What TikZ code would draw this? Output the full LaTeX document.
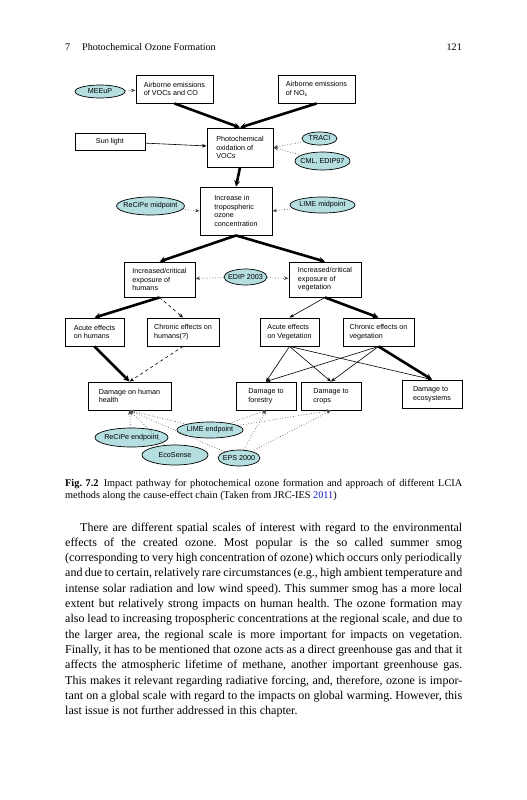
\documentclass[tikz,border=0pt]{standalone}
\usepackage{fontspec}
\setmainfont{Liberation Serif}
\setsansfont{Liberation Sans}
\usepackage{xcolor}
\usetikzlibrary{arrows.meta, shapes.geometric, calc}
\definecolor{methodcyan}{RGB}{180, 222, 224}
\definecolor{reflink}{RGB}{20, 20, 210}
\frenchspacing

\begin{document}
\begin{tikzpicture}[
  x=1pt, y=-1pt,
  every node/.style={font=\sffamily\fontsize{7.2}{8.6}\selectfont},
  stage/.style={draw=black, line width=0.9pt, fill=white, inner xsep=2pt, inner ysep=2pt, align=left},
  method/.style={ellipse, draw=black, line width=0.7pt, fill=methodcyan, inner xsep=-3pt, inner ysep=0pt, align=center},
  flow/.style={-{Stealth[length=4.5pt, width=3.5pt]}, line width=0.6pt},
  mainflow/.style={-{Stealth[length=6pt, width=6pt]}, line width=2.6pt},
  maybe/.style={flow, dashed},
  approach/.style={-{Stealth[length=4.5pt, width=3.5pt]}, line width=0.65pt, dotted, draw=black!70},
  pagetext/.style={font=\rmfamily\fontsize{10.1}{12}\selectfont, inner sep=0pt},
  body/.style={font=\rmfamily\fontsize{12}{15.3}\selectfont, anchor=base west, inner sep=0pt, text width=397pt, align=justify}
]
  \useasboundingbox (0,0) rectangle (527,800);

  % Kopfzeile
  \node[pagetext, anchor=base west] (chapno) at (65, 50.5) {7};
  \node[pagetext, anchor=base west] (chaptitle) at (82, 50.5) {Photochemical Ozone Formation};
  \node[pagetext, anchor=base east] (pageno) at (462, 50.5) {121};

  % Emissionen und Bildung
  \node[method, minimum width=50pt, minimum height=13pt] (meeup) at (100, 91.5) {MEEuP};
  \node[stage, minimum width=77pt, minimum height=28pt] (voc) at (174.5, 89) {Airborne emissions\\of VOCs and CO};
  \node[stage, minimum width=77pt, minimum height=28pt] (nox) at (316.5, 89) {Airborne emissions\\of NO\textsubscript{x}};
  \node[stage, align=center, minimum width=70pt, minimum height=17pt] (sun) at (110, 141.5) {Sun light};
  \node[stage, minimum width=66pt, minimum height=39pt] (photo) at (240, 147.5) {Photochemical\\oxidation of\\VOCs};
  \node[method, minimum width=35pt, minimum height=13pt] (traci) at (319.5, 138.5) {TRACI};
  \node[method, minimum width=55pt, minimum height=18pt] (cml) at (322.5, 161) {CML, EDIP97};

  % Ozonkonzentration
  \node[stage, minimum width=72pt, minimum height=48pt] (incr) at (236, 211) {Increase in\\tropospheric\\ozone\\concentration};
  \node[method, minimum width=65pt, minimum height=18pt] (recmid) at (150.5, 206) {ReCiPe midpoint};
  \node[method, minimum width=65pt, minimum height=16pt] (limemid) at (322.5, 205) {LIME midpoint};

  % Exposition
  \node[stage, minimum width=71pt, minimum height=35pt] (exph) at (159.5, 279.5) {Increased/critical\\exposure of\\humans};
  \node[stage, minimum width=72pt, minimum height=35pt] (expv) at (325, 279.5) {Increased/critical\\exposure of\\vegetation};
  \node[method, minimum width=43pt, minimum height=16pt] (edip) at (245.5, 277) {EDIP 2003};

  % Wirkungen
  \node[stage, minimum width=59pt, minimum height=28pt] (acuh) at (94.5, 332) {Acute effects\\on humans};
  \node[stage, minimum width=72pt, minimum height=28pt] (chrh) at (183, 332) {Chronic effects on\\humans(?)};
  \node[stage, minimum width=59pt, minimum height=28pt] (acuv) at (289.5, 332) {Acute effects\\on Vegetation};
  \node[stage, minimum width=71pt, minimum height=28pt] (chrv) at (378.5, 332) {Chronic effects on\\vegetation};

  % Schaeden
  \node[stage, minimum width=83pt, minimum height=28pt] (dhh) at (129.5, 396) {Damage on human\\health};
  \node[stage, minimum width=60pt, minimum height=28pt] (dfor) at (266, 396) {Damage to\\forestry};
  \node[stage, minimum width=60pt, minimum height=28pt] (dcrop) at (331, 396) {Damage to\\crops};
  \node[stage, minimum width=60pt, minimum height=28pt] (deco) at (432, 394) {Damage to\\ecosystems};

  % Endpunktmethoden
  \node[method, minimum width=73pt, minimum height=19pt] (recend) at (131.5, 437.5) {ReCiPe endpoint};
  \node[method, minimum width=66pt, minimum height=16pt] (limeend) at (210, 430) {LIME endpoint};
  \node[method, minimum width=66pt, minimum height=20pt] (ecos) at (175, 455) {EcoSense};
  \node[method, minimum width=42pt, minimum height=16pt] (eps) at (239, 458) {EPS 2000};

  % Pfeile der Wirkungskette
  \draw[approach] (meeup) -- (voc);
  \draw[mainflow] (voc.south) -- (photo.north);
  \draw[mainflow] (nox.south) -- (photo.north);
  \draw[flow] (sun) -- (photo);
  \draw[approach] (traci) -- (photo.east);
  \draw[approach] (cml) -- (photo.east);
  \draw[mainflow] (photo.south) -- (incr.north);
  \draw[approach] (recmid) -- (incr.west);
  \draw[approach] (limemid) -- (incr.east);
  \draw[mainflow] (incr.south) -- (exph.north);
  \draw[mainflow] (incr.south) -- (expv.north);
  \draw[approach] (edip) -- (exph);
  \draw[approach] (edip) -- (expv);
  \draw[mainflow] (exph.south) -- (acuh.north);
  \draw[maybe] (exph.south) -- (chrh.north);
  \draw[flow] (expv.south) -- (acuv.north);
  \draw[mainflow] (expv.south) -- (chrv.north);
  \draw[mainflow] (acuh.south) -- (dhh.north);
  \draw[maybe] (chrh.south) -- (dhh.north);
  \draw[flow] (acuv.south) -- (dfor.north);
  \draw[flow] (acuv.south) -- (dcrop.north);
  \draw[flow] (acuv.south) -- (deco.north);
  \draw[flow] (chrv.south) -- (dfor.north);
  \draw[flow] (chrv.south) -- (dcrop.north);
  \draw[mainflow] (chrv.south) -- (deco.north);

  % Endpunkte
  \draw[approach] (recend) -- (dhh.south);
  \draw[approach] (ecos) -- (dhh.south);
  \draw[approach] (eps) -- (dhh.south);
  \draw[approach] (eps) -- (dfor.south);
  \draw[approach] (eps) -- (dcrop.south);
  \draw[approach] (limeend) -- (dhh.south);
  \draw[approach] (limeend) -- (dfor.south);
  \draw[approach] (limeend) -- (dcrop.south);

  % Bildunterschrift
  \node[body, font=\rmfamily\fontsize{10.3}{11.8}\selectfont] (caption) at (65, 486.5)
    {\textbf{Fig. 7.2}\hspace{0.5em}Impact pathway for photochemical ozone formation and approach of different LCIA\linebreak methods along the cause-effect chain (Taken from JRC-IES \textcolor{reflink}{2011})};

  % Fliesstext
  \node[body] (para) at (65, 531)
    {\noindent\hspace*{15pt}There are different spatial scales of interest with regard to the environmental\linebreak
    effects of the created ozone. Most popular is the so called summer smog\linebreak
    (corresponding to very high concentration of ozone) which occurs only periodically\linebreak
    and due to certain, relatively rare circumstances (e.g., high ambient temperature and\linebreak
    intense solar radiation and low wind speed). This summer smog has a more local\linebreak
    extent but relatively strong impacts on human health. The ozone formation may\linebreak
    also lead to increasing tropospheric concentrations at the regional scale, and due to\linebreak
    the larger area, the regional scale is more important for impacts on vegetation.\linebreak
    Finally, it has to be mentioned that ozone acts as a direct greenhouse gas and that it\linebreak
    affects the atmospheric lifetime of methane, another important greenhouse gas.\linebreak
    This makes it relevant regarding radiative forcing, and, therefore, ozone is impor-\linebreak
    tant on a global scale with regard to the impacts on global warming. However, this\linebreak
    last issue is not further addressed in this chapter.};
\end{tikzpicture}
\end{document}
